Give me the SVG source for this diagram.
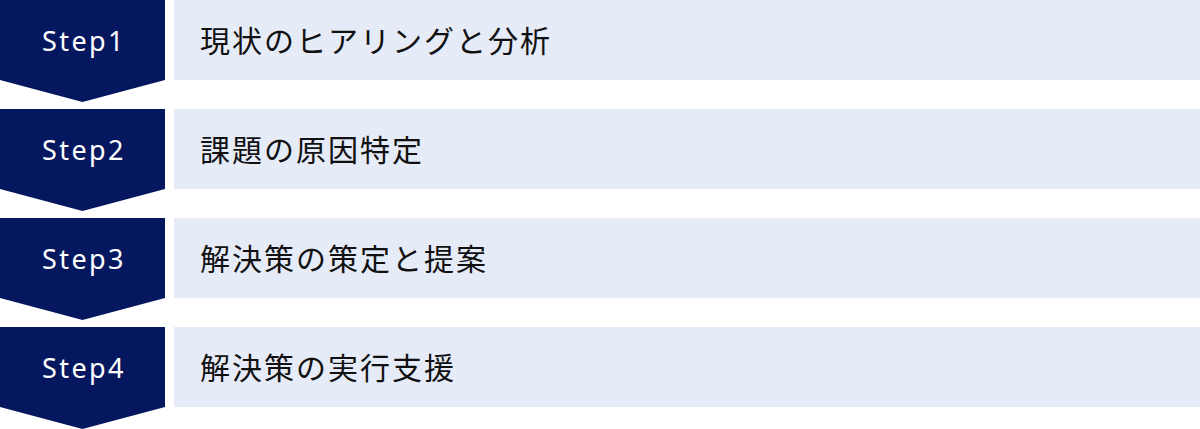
<svg xmlns="http://www.w3.org/2000/svg" width="1200" height="429" viewBox="0 0 1200 429">
<style>
.chev{fill:#05185f}
.box{fill:#e6ebf8}
.step{font-family:"Noto Sans","Open Sans",sans-serif;font-size:27px;fill:#ffffff;text-anchor:middle;letter-spacing:2.4px}
.label{font-family:"Noto Sans CJK JP","Noto Sans",sans-serif;font-size:30px;fill:#111111;letter-spacing:2px}
</style>
<g id="connectors"></g>
<g id="step1" transform="translate(0,0)">
<path class="chev" d="M0 0H165V80L82.5 102L0 80Z"/>
<rect class="box" x="174" y="0" width="1026" height="80"/>
<text class="step" x="84" y="51">Step1</text>
<text class="label" x="200" y="52">現状のヒアリングと分析</text>
</g>
<g id="step2" transform="translate(0,109)">
<path class="chev" d="M0 0H165V80L82.5 102L0 80Z"/>
<rect class="box" x="174" y="0" width="1026" height="80"/>
<text class="step" x="84" y="51">Step2</text>
<text class="label" x="200" y="52">課題の原因特定</text>
</g>
<g id="step3" transform="translate(0,218)">
<path class="chev" d="M0 0H165V80L82.5 102L0 80Z"/>
<rect class="box" x="174" y="0" width="1026" height="80"/>
<text class="step" x="84" y="51">Step3</text>
<text class="label" x="200" y="52">解決策の策定と提案</text>
</g>
<g id="step4" transform="translate(0,327)">
<path class="chev" d="M0 0H165V80L82.5 102L0 80Z"/>
<rect class="box" x="174" y="0" width="1026" height="80"/>
<text class="step" x="84" y="51">Step4</text>
<text class="label" x="200" y="52">解決策の実行支援</text>
</g>
</svg>
